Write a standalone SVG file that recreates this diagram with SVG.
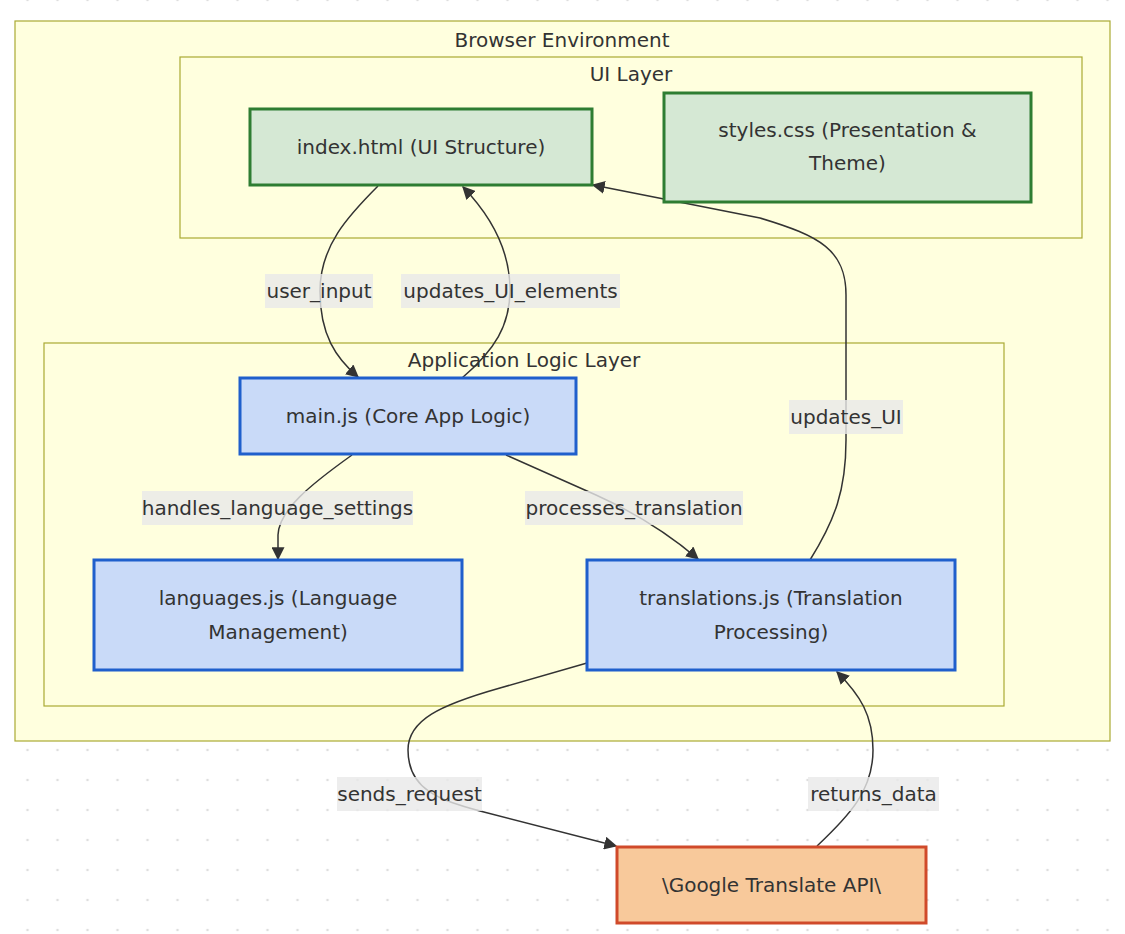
<svg xmlns="http://www.w3.org/2000/svg" width="1125" height="934" viewBox="0 0 1125 934">
<style>
text{font-family:"DejaVu Sans","Open Sans",sans-serif;font-size:20px;fill:#333;text-anchor:middle}
.cluster{fill:#ffffde;stroke:#aaaa33;stroke-width:1.2}
.green{fill:#d5e8d4;stroke:#2e7d32;stroke-width:3}
.blue{fill:#c9daf8;stroke:#1f5fcc;stroke-width:3}
.orange{fill:#f8c99b;stroke:#d04a2a;stroke-width:3}
.edge{fill:none;stroke:#333;stroke-width:1.5;marker-end:url(#arrow)}
.lbl{fill:#e8e8e8;fill-opacity:0.8}
</style>
<defs>
<pattern id="dots" x="12.5" y="-15" width="30" height="30" patternUnits="userSpaceOnUse">
<circle cx="15" cy="15" r="1.3" fill="#dedede"/>
</pattern>
<marker id="arrow" viewBox="0 0 10 10" refX="9" refY="5" markerWidth="13" markerHeight="13" markerUnits="userSpaceOnUse" orient="auto">
<path d="M0,0 L10,5 L0,10 z" fill="#333"/>
</marker>
</defs>
<rect width="1125" height="934" fill="#ffffff"/>
<rect width="1125" height="934" fill="url(#dots)"/>

<g id="cluster-browser">
<rect class="cluster" x="15" y="21" width="1095" height="720"/>
<text x="562" y="47">Browser Environment</text>
</g>
<g id="cluster-ui">
<rect class="cluster" x="180" y="57" width="902" height="181"/>
<text x="631" y="81">UI Layer</text>
</g>
<g id="cluster-app">
<rect class="cluster" x="44" y="343" width="960" height="363"/>
<text x="524" y="367">Application Logic Layer</text>
</g>

<g id="connectors">
<path class="edge" d="M378,186 C348,216 320,246 320,291 C320,335 336,358 358,377"/>
<path class="edge" d="M462,378 C495,350 510,325 510,290 C510,250 490,215 463,187"/>
<path class="edge" d="M352,455 C310,485 279,510 278,535 L278,559"/>
<path class="edge" d="M506,455 L596,495 C640,515 670,535 698,559"/>
<path class="edge" d="M810,560 C835,520 846,490 846,440 L846,295 C846,250 820,236 760,218 L593,185"/>
<path class="edge" d="M587,663 L500,688 C440,705 408,720 408,750 C408,790 440,800 480,811 L616,846"/>
<path class="edge" d="M817,846 C850,815 873,790 873,750 C873,715 860,695 837,672"/>
<g id="edge-labels">
<rect class="lbl" x="265" y="274" width="108" height="34"/><text x="319" y="298">user_input</text>
<rect class="lbl" x="401" y="274" width="219" height="34"/><text x="510.5" y="298">updates_UI_elements</text>
<rect class="lbl" x="142" y="491" width="271" height="34"/><text x="277.5" y="515">handles_language_settings</text>
<rect class="lbl" x="525" y="491" width="218" height="34"/><text x="634" y="515">processes_translation</text>
<rect class="lbl" x="789" y="400" width="114" height="34"/><text x="846" y="424">updates_UI</text>
<rect class="lbl" x="337" y="777" width="145" height="34"/><text x="409.5" y="801">sends_request</text>
<rect class="lbl" x="808" y="777" width="131" height="34"/><text x="873.5" y="801">returns_data</text>
</g>
</g>

<g id="node-index">
<rect class="green" x="250" y="109" width="342" height="76"/>
<text x="421" y="154">index.html (UI Structure)</text>
</g>
<g id="node-styles">
<rect class="green" x="664" y="93" width="367" height="109"/>
<text x="847.5" y="137">styles.css (Presentation &amp;</text>
<text x="847.5" y="170">Theme)</text>
</g>
<g id="node-main">
<rect class="blue" x="240" y="378" width="336" height="76"/>
<text x="408" y="423">main.js (Core App Logic)</text>
</g>
<g id="node-languages">
<rect class="blue" x="94" y="560" width="368" height="110"/>
<text x="278" y="605">languages.js (Language</text>
<text x="278" y="639">Management)</text>
</g>
<g id="node-translations">
<rect class="blue" x="587" y="560" width="368" height="110"/>
<text x="771" y="605">translations.js (Translation</text>
<text x="771" y="639">Processing)</text>
</g>
<g id="node-google">
<rect class="orange" x="617" y="847" width="309" height="76"/>
<text x="771.5" y="892">\Google Translate API\</text>
</g>
</svg>
